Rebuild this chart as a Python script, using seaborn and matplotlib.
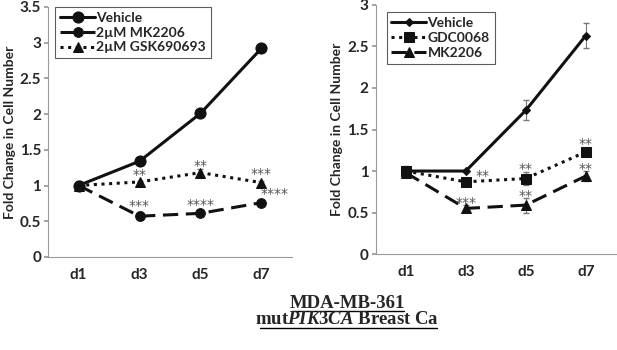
import numpy as np
import pandas as pd
import matplotlib.pyplot as plt
import seaborn as sns

sns.set_theme(style="white")
plt.rcParams['font.family'] = ['Lato', 'DejaVu Sans']
plt.rcParams['mathtext.fontset'] = 'custom'
plt.rcParams['mathtext.it'] = 'Liberation Serif:italic:bold'
plt.rcParams['mathtext.rm'] = 'Liberation Serif:bold'

days = ['d1', 'd3', 'd5', 'd7']

# left panel
left_vehicle = [1.0, 1.34, 2.01, 2.92]
left_vehicle_err = [0.07, 0.02, 0.02, 0.02]
left_mk = [1.0, 0.57, 0.61, 0.76]
left_mk_err = [0.03, 0.06, 0.02, 0.02]
left_gsk = [1.0, 1.05, 1.18, 1.04]
left_gsk_err = [0.03, 0.02, 0.05, 0.02]
left_stars_gsk = ['', '**', '**', '***']
left_stars_mk = ['', '***', '****', '****']

# right panel
right_vehicle = [1.0, 1.0, 1.73, 2.63]
right_vehicle_err = [0.06, 0.01, 0.12, 0.15]
right_gdc = [1.0, 0.87, 0.91, 1.23]
right_gdc_err = [0.05, 0.02, 0.08, 0.02]
right_mk = [0.98, 0.55, 0.59, 0.94]
right_mk_err = [0.03, 0.04, 0.09, 0.06]
right_stars_gdc = ['', '**', '**', '**']
right_stars_mk = ['', '***', '**', '**']

ink = '#111111'
star_col = '#555555'

fig = plt.figure(figsize=(6.17, 3.5), dpi=100)
ax1 = fig.add_axes([0.078, 0.266, 0.395, 0.714])
ax2 = fig.add_axes([0.609, 0.274, 0.389, 0.712])


def draw(ax, vals, errs, label, ls, marker, ms, lw=2.2):
    x = np.arange(len(days))
    sns.lineplot(x=x, y=vals, ax=ax, color=ink, linestyle=ls, marker=marker,
                 markersize=ms, markeredgecolor=ink, linewidth=lw, label=label)
    ax.errorbar(x, vals, yerr=errs, fmt='none', ecolor='#777777',
                elinewidth=0.8, capsize=2, zorder=1)


def stars(ax, vals, marks, offsets):
    # offsets: (dx, dy) per point
    for i, (v, s, (dx, dy)) in enumerate(zip(vals, marks, offsets)):
        if s:
            ax.text(i + dx, v + dy, s, ha='center', va='center',
                    color=star_col, fontsize=10, family='DejaVu Sans')


draw(ax1, left_vehicle, left_vehicle_err, 'Vehicle', '-', 'o', 8)
draw(ax1, left_mk, left_mk_err, '2µM MK2206', (0, (5, 2.5)), 'o', 7)
draw(ax1, left_gsk, left_gsk_err, '2µM GSK690693', (0, (1, 1.5)), '^', 6.5)
stars(ax1, left_gsk, left_stars_gsk,
      [(0, 0), (0, 0.10), (0, 0.10), (0, 0.12)])
stars(ax1, left_mk, left_stars_mk,
      [(0, 0), (0, 0.14), (0, 0.12), (0.22, 0.12)])

draw(ax2, right_vehicle, right_vehicle_err, 'Vehicle', '-', 'D', 4.5)
draw(ax2, right_gdc, right_gdc_err, 'GDC0068', (0, (1, 1.5)), 's', 7)
draw(ax2, right_mk, right_mk_err, 'MK2206', (0, (5, 2.5)), '^', 7)
stars(ax2, right_gdc, right_stars_gdc,
      [(0, 0), (0.28, 0.07), (0, 0.12), (0, 0.09)])
stars(ax2, right_mk, right_stars_mk,
      [(0, 0), (0, 0.07), (0, 0.11), (0, 0.09)])

for ax, top in [(ax1, 3.5), (ax2, 3.0)]:
    ax.set_xlim(-0.5, 3.5)
    ax.set_ylim(0, top)
    ticks = np.arange(0, top + 0.01, 0.5)
    ax.set_yticks(ticks)
    ax.set_yticklabels([f'{t:g}' for t in ticks], fontsize=11,
                       fontweight='bold')
    ax.set_xticks(range(len(days)))
    ax.set_xticklabels(days, fontsize=11, fontweight='bold')
    ax.set_xticks(np.arange(-0.5, 3.6, 1), minor=True)
    ax.tick_params(axis='x', which='major', length=0, pad=8)
    ax.tick_params(axis='x', which='minor', length=4, color='#999999')
    ax.tick_params(axis='y', length=3, color='#999999', left=True, pad=2)
    ax.set_ylabel('Fold Change in Cell Number', fontsize=10,
                  fontweight='bold', labelpad=3)
    for s in ['top', 'right']:
        ax.spines[s].set_visible(False)
    for s in ['left', 'bottom']:
        ax.spines[s].set_color('#999999')
        ax.spines[s].set_linewidth(0.8)
    ax.set_facecolor('none')

leg_kw = dict(frameon=True, fancybox=False, edgecolor='#333333',
              handlelength=2.5, handletextpad=0.1, borderpad=0.35,
              labelspacing=0.2, borderaxespad=0,
              prop={'weight': 'bold', 'size': 10})
l1 = ax1.legend(loc='upper left', bbox_to_anchor=(0.03, 1.0), **leg_kw)
l2 = ax2.legend(loc='upper left', bbox_to_anchor=(0.045, 0.97), **leg_kw)
for l in (l1, l2):
    l.get_frame().set_linewidth(0.8)

fig.text(0.563, 0.134, 'MDA-MB-361', ha='center', va='center',
         family='Liberation Serif', fontweight='bold', fontsize=13.5)
fig.text(0.563, 0.086, r'mut$\mathit{PIK3CA}$ Breast Ca', ha='center',
         va='center', family='Liberation Serif', fontweight='bold',
         fontsize=13.5)
fig.add_artist(plt.Line2D([0.473, 0.654], [0.112, 0.112], color='black', lw=1))
fig.add_artist(plt.Line2D([0.421, 0.708], [0.064, 0.064], color='black', lw=1))

fig.savefig('out.png', dpi=100)
